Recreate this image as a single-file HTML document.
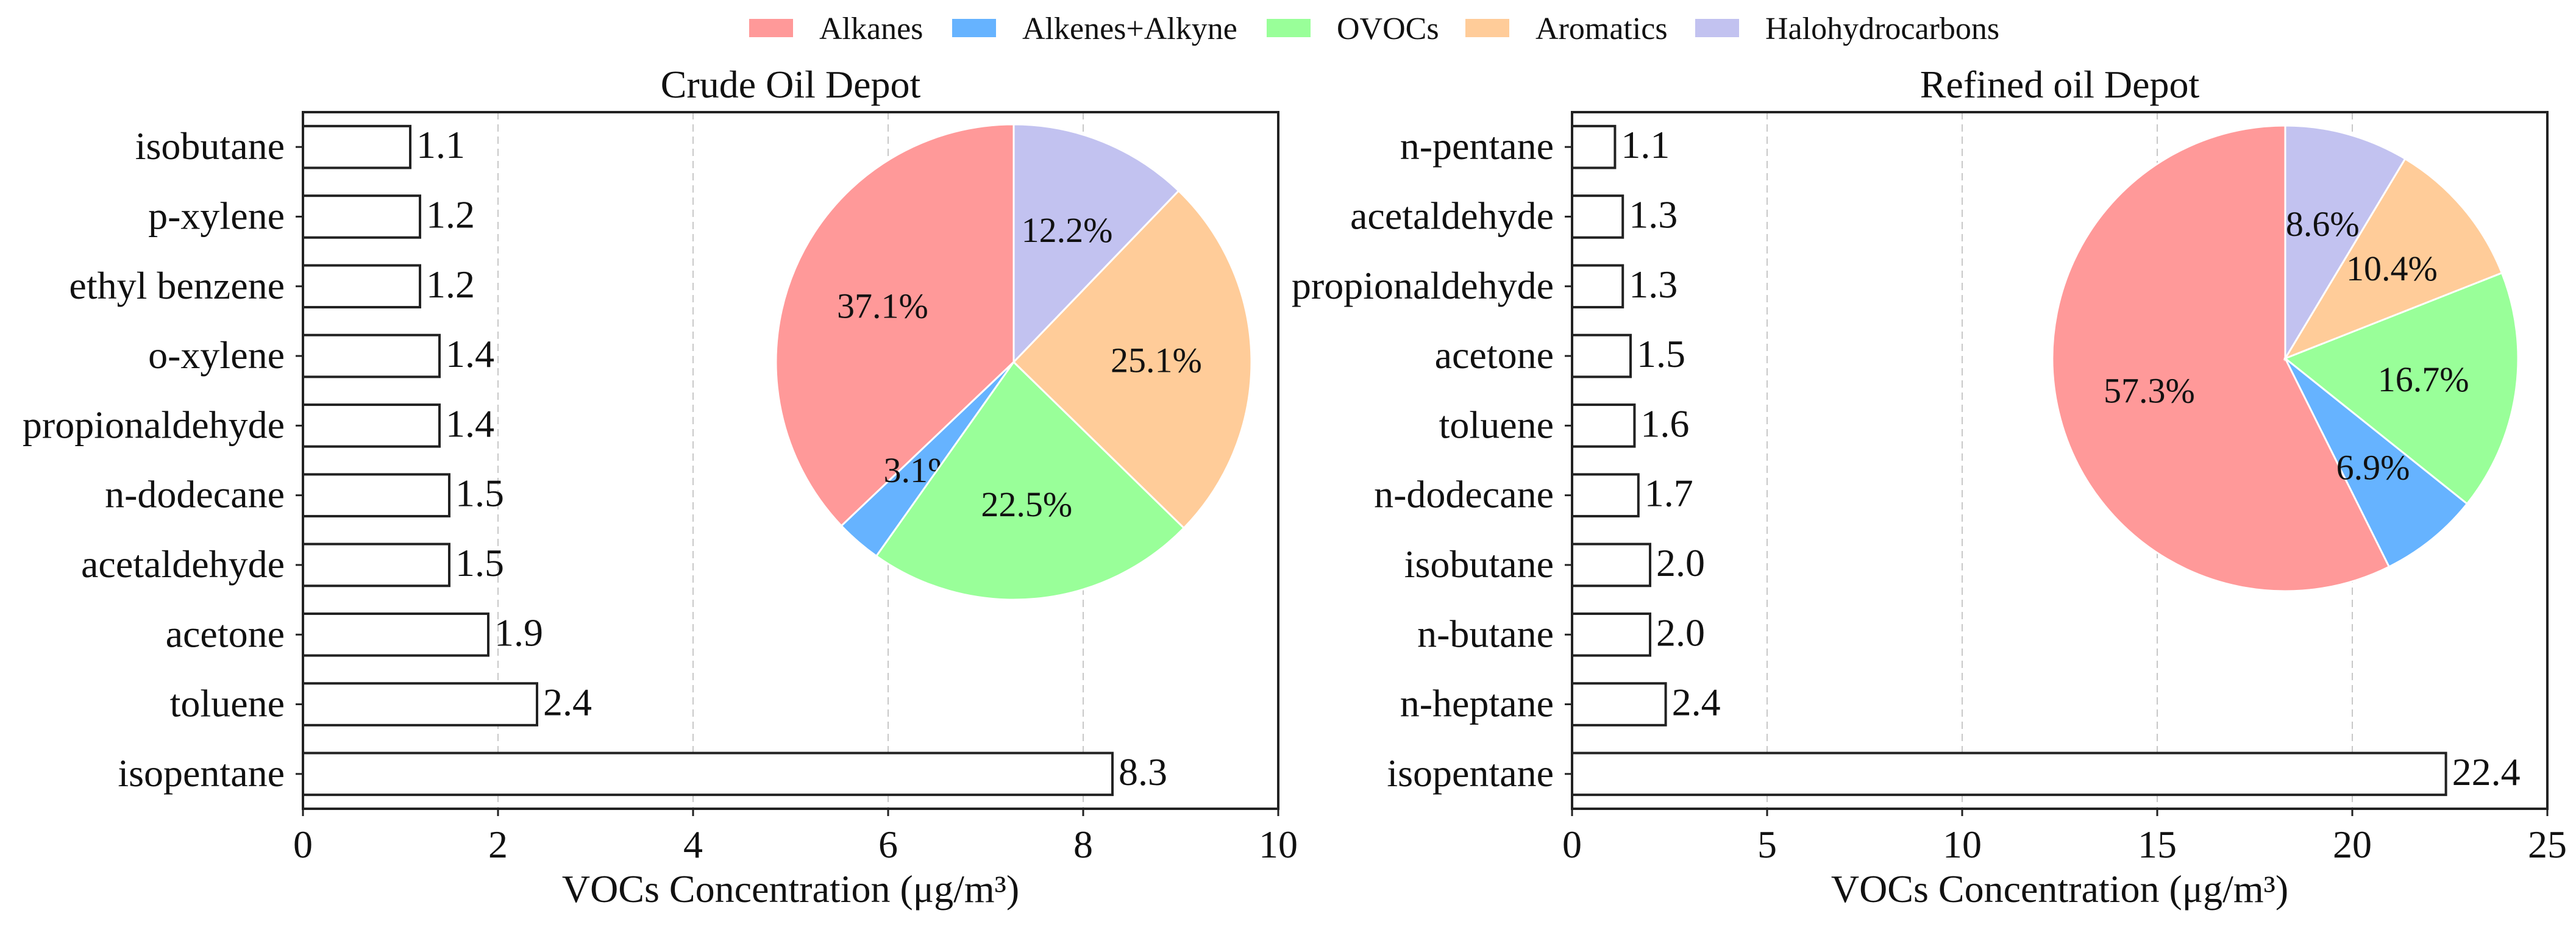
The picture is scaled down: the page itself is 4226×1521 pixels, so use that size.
<!DOCTYPE html>
<html><head><meta charset="utf-8"><style>
html,body{margin:0;padding:0;background:#fff;}
svg{display:block;font-family:"Liberation Serif",serif;}
</style></head><body>
<svg id="chart" width="4226" height="1521" viewBox="0 0 4226 1521" xmlns="http://www.w3.org/2000/svg">
<g id="legend"></g>
<g id="left"></g>
<g id="right"></g>
</svg>
<script>
const NS="http://www.w3.org/2000/svg";
const groupNames=["Alkanes","Alkenes+Alkyne","OVOCs","Aromatics","Halohydrocarbons"];
const groupColors=["#ff9999","#66b3ff","#99ff99","#ffcc99","#c2c2f0"];
const crudeCats=["isobutane","p-xylene","ethyl benzene","o-xylene","propionaldehyde","n-dodecane","acetaldehyde","acetone","toluene","isopentane"];
const crudeVals=[1.1,1.2,1.2,1.4,1.4,1.5,1.5,1.9,2.4,8.3];
const crudePie=[37.1,3.1,22.5,25.1,12.2];
const crudeTicks=[0,2,4,6,8,10];
const refinedCats=["n-pentane","acetaldehyde","propionaldehyde","acetone","toluene","n-dodecane","isobutane","n-butane","n-heptane","isopentane"];
const refinedVals=[1.1,1.3,1.3,1.5,1.6,1.7,2.0,2.0,2.4,22.4];
const refinedPie=[57.3,6.9,16.7,10.4,8.6];
const refinedTicks=[0,5,10,15,20,25];

function mk(tag,attrs,parent,text){const e=document.createElementNS(NS,tag);for(const k in attrs)e.setAttribute(k,attrs[k]);if(text!==undefined)e.textContent=text;parent.appendChild(e);return e;}

const lg=document.getElementById('legend');
const legX=[1229,1562,2078,2404,2781];
groupNames.forEach((n,i)=>{
  const r=mk('rect',{x:legX[i],y:31,width:72,height:30,fill:groupColors[i]},lg);
  
  
  const t=mk('text',{x:legX[i]+115,y:64,'font-size':52,fill:'#111'},lg,n);
  
  
});

function panel(g,o){
  const {x0,x1,y0,y1,xmax,cats,vals,ticks,pie,cx,cy,R,title}=o;
  const xs=v=>x0+(v/xmax)*(x1-x0);
  const n=cats.length, step=(y1-y0)/n;
  const ys=i=>y0+step*(i+0.5);
  ticks.forEach(t=>{
    if(t===0||t===xmax)return;
    const l=mk('line',{x1:xs(t),x2:xs(t),y1:y0,y2:y1,stroke:'#c8c8c8','stroke-width':2,'stroke-dasharray':'12 8'},g);
    
    
  });
  cats.forEach((c,i)=>{
    const h=step*0.6;
    const b=mk('rect',{x:x0,y:ys(i)-h/2,width:xs(vals[i])-x0,height:h,fill:'#fff',stroke:'#222','stroke-width':4},g);
    
    
    const v=mk('text',{x:xs(vals[i])+10,y:ys(i)+18,'font-size':64,fill:'#111'},g,vals[i].toFixed(1));
    
    
    const lab=mk('text',{x:x0-30,y:ys(i)+20,'font-size':64,'text-anchor':'end',fill:'#111'},g,c);
    
    
    mk('line',{x1:x0-12,x2:x0,y1:ys(i),y2:ys(i),stroke:'#222','stroke-width':3},g);
  });
  const tot=pie.reduce((a,b)=>a+b,0);
  let ang=90;
  pie.forEach((p,i)=>{
    const a0=ang, a1=ang+p/tot*360; ang=a1;
    const r=d=>d*Math.PI/180;
    const px=d=>cx+R*Math.cos(r(d)), py=d=>cy-R*Math.sin(r(d));
    const large=(a1-a0)>180?1:0;
    const path=mk('path',{d:`M${cx},${cy} L${px(a0)},${py(a0)} A${R},${R} 0 ${large} 0 ${px(a1)},${py(a1)} Z`,fill:groupColors[i],stroke:'#fff','stroke-width':3},g);
    
    
    const m=r((a0+a1)/2);
    const t=mk('text',{x:cx+0.6*R*Math.cos(m),y:cy-0.6*R*Math.sin(m)+20,'font-size':58,'text-anchor':'middle',fill:'#111'},g,p.toFixed(1)+'%');
    
    
  });
  const f=mk('rect',{x:x0,y:y0,width:x1-x0,height:y1-y0,fill:'none',stroke:'#222','stroke-width':4},g);
  
  
  ticks.forEach(t=>{
    mk('line',{x1:xs(t),x2:xs(t),y1:y1,y2:y1+12,stroke:'#222','stroke-width':3},g);
    const tl=mk('text',{x:xs(t),y:y1+80,'font-size':64,'text-anchor':'middle',fill:'#111'},g,String(t));
    
    
  });
  const xl=mk('text',{x:(x0+x1)/2,y:1480,'font-size':64,'text-anchor':'middle',fill:'#111'},g,'VOCs Concentration (μg/m³)');
  
  
  const tt=mk('text',{x:(x0+x1)/2,y:160,'font-size':64,'text-anchor':'middle',fill:'#111'},g,title);
  
  
}
panel(document.getElementById('left'),{x0:497,x1:2097,y0:184,y1:1327,xmax:10,cats:crudeCats,vals:crudeVals,ticks:crudeTicks,pie:crudePie,cx:1663,cy:594,R:390,title:'Crude Oil Depot'});
panel(document.getElementById('right'),{x0:2579,x1:4179,y0:184,y1:1327,xmax:25,cats:refinedCats,vals:refinedVals,ticks:refinedTicks,pie:refinedPie,cx:3749,cy:588,R:382,title:'Refined oil Depot'});
</script>
</body></html>
